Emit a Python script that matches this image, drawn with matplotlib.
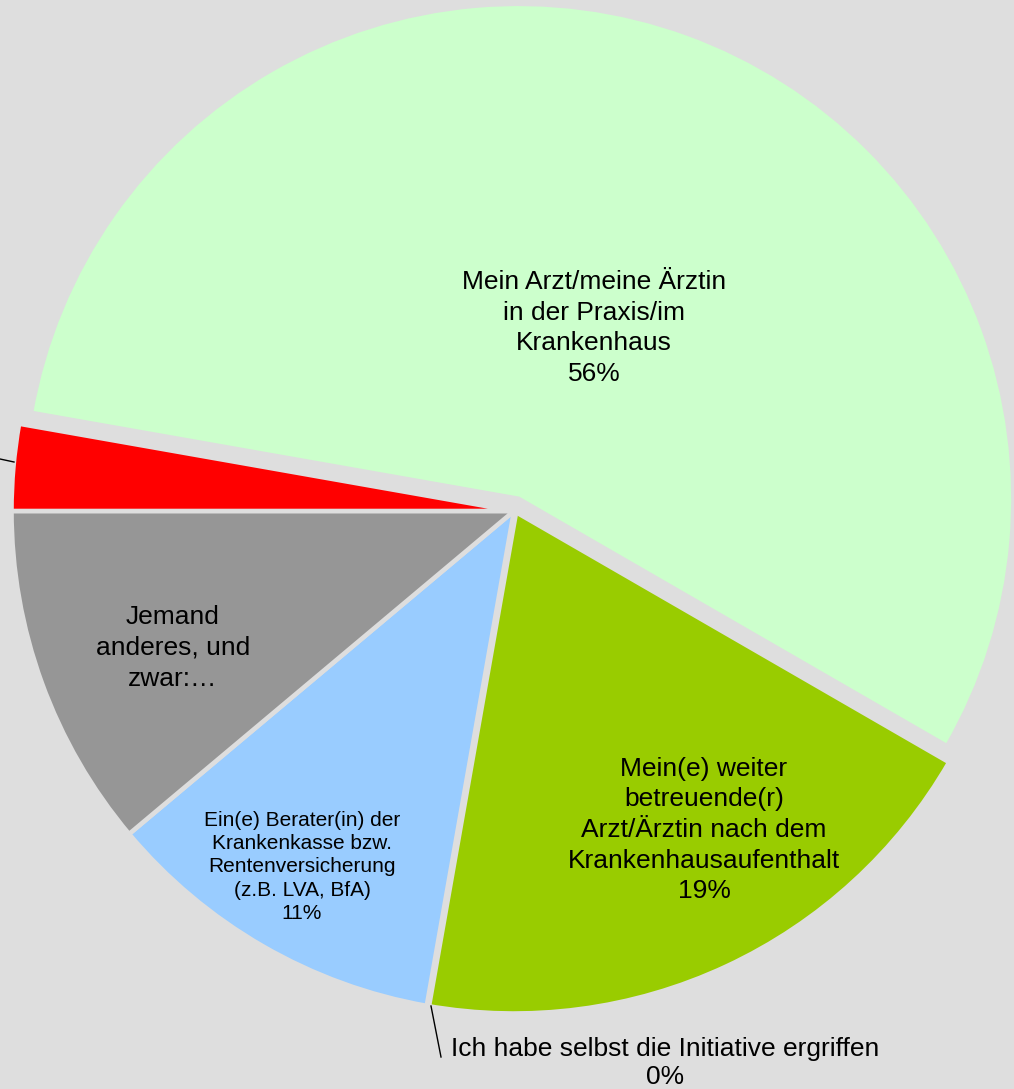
import matplotlib
matplotlib.use("Agg")
import matplotlib.pyplot as plt
import numpy as np

plt.rcParams['font.family'] = ['Liberation Sans', 'DejaVu Sans']

# Anteile (n = 36 Nennungen)
kategorien = [
    "Mein Arzt/meine Ärztin\nin der Praxis/im\nKrankenhaus",
    "Mein(e) weiter\nbetreuende(r)\nArzt/Ärztin nach dem\nKrankenhausaufenthalt",
    "Ich habe selbst die Initiative ergriffen",
    "Ein(e) Berater(in) der\nKrankenkasse bzw.\nRentenversicherung\n(z.B. LVA, BfA)",
    "Jemand\nanderes, und\nzwar:…",
    "",
]
anzahl = [20, 7, 0, 4, 4, 1]
prozent_text = ["56%", "19%", "0%", "11%", "", ""]
farben = ["#CCFFCC", "#99CC00", "#FFFFCC", "#99CCFF", "#969696", "#FF0000"]
bg = "#DEDEDE"

W, H = 1014, 1089
fig = plt.figure(figsize=(W / 100, H / 100), dpi=100)
fig.patch.set_facecolor(bg)
ax = fig.add_axes([0, 0, 1, 1])
ax.set_facecolor(bg)

lw = 3.3
cx, cy, r = 514, H - 511, 502.5
# explode wird in Datenkoordinaten (Pixel) angegeben
wedges, _ = ax.pie(anzahl, colors=farben, startangle=170, counterclock=False,
                   center=(cx, cy), radius=r, explode=[13, 0, 0, 0, 0, 0],
                   wedgeprops=dict(edgecolor=bg, linewidth=lw), frame=True)
wedges[0].set_radius(495)
wedges[2].set_linewidth(2 * lw)
ax.set_xlim(0, W)
ax.set_ylim(0, H)
ax.set_aspect("equal")
ax.axis("off")

# Beschriftungen in den Segmenten
def label(i, x, y, size, ls):
    txt = kategorien[i]
    if prozent_text[i]:
        txt += "\n" + prozent_text[i]
    ax.text(x, H - y, txt, ha="center", va="center", fontsize=size,
            linespacing=ls, color="black")

label(0, 594, 328, 19, 1.35)
label(1, 704, 830, 19, 1.35)
label(3, 302, 867, 15, 1.28)
label(4, 173, 648, 19, 1.35)

# 0%-Segment mit Führungslinie
ax.plot([431, 441], [H - 1006, H - 1057], color="black", lw=1)
ax.text(665, H - 1063, kategorien[2] + "\n" + prozent_text[2], ha="center",
        va="center", fontsize=19, linespacing=1.2, color="black")

# Führungslinie des roten Segments (Beschriftung liegt außerhalb des Bildes)
ax.plot([14, 0], [H - 462, H - 459], color="black", lw=1)

fig.savefig("out.png", dpi=100, facecolor=bg)
